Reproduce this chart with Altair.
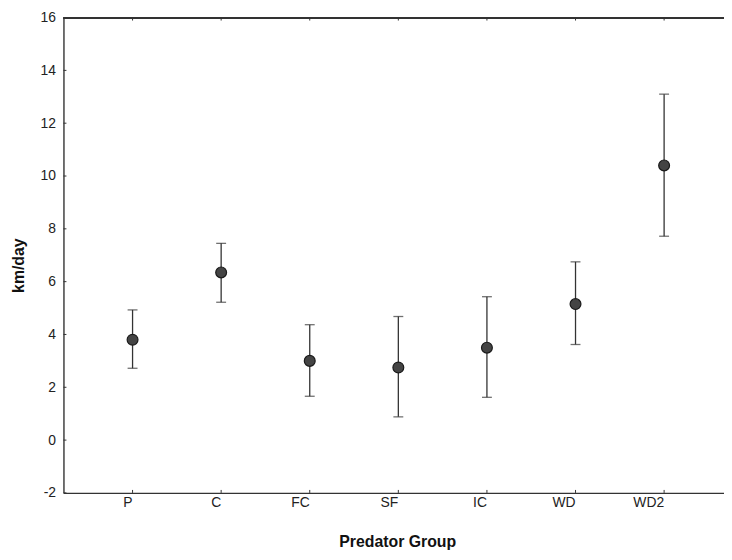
import altair as alt
import pandas as pd

groups = ["P", "C", "FC", "SF", "IC", "WD", "WD2"]
means = [3.8, 6.35, 3.0, 2.75, 3.5, 5.15, 10.4]
uppers = [4.93, 7.45, 4.37, 4.68, 5.43, 6.75, 13.1]
lowers = [2.72, 5.22, 1.66, 0.88, 1.62, 3.62, 7.72]
y_ticks = [-2, 0, 2, 4, 6, 8, 10, 12, 14, 16]

df = pd.DataFrame({"group": groups, "mean": means, "upper": uppers, "lower": lowers})
tick_df = pd.DataFrame({"v": y_ticks})

W, H = 667, 480
font = "Liberation Sans"
ink = "#333"

xscale = alt.Scale(domain=groups, padding=0.456, align=0.557)
yscale = alt.Scale(domain=[-2, 16], nice=False, zero=False)

xenc = alt.X("group:N", scale=xscale, sort=groups,
             axis=alt.Axis(title="Predator Group", labelAngle=0, ticks=False, tickSize=0,
                           labelPadding=10, labelFontSize=14, labelFont=font, labelColor="#222",
                           titleFont=font, titleFontSize=16, titleFontWeight="bold", titleColor="#111",
                           titleBaseline="alphabetic", titleY=54, titleX=337,
                           domain=True, domainColor=ink, domainWidth=1.4, grid=False))
yenc = alt.Y("mean:Q", scale=yscale,
             axis=alt.Axis(title="km/day", values=y_ticks, ticks=False, tickSize=0, labelPadding=8,
                           labelExpr="toString(datum.value)",
                           labelFontSize=14, labelFont=font, labelColor="#222",
                           titleFont=font, titleFontSize=16, titleFontWeight="bold", titleColor="#111",
                           titleBaseline="middle", titleX=-45, titleY=250, titleAngle=-90,
                           domain=True, domainColor=ink, domainWidth=1.4, grid=False))

bars = alt.Chart(df).mark_rule(color=ink, strokeWidth=1.3).encode(
    x=alt.X("group:N", scale=xscale, sort=groups),
    y=alt.Y("lower:Q", scale=yscale),
    y2="upper:Q",
)
cap_hi = alt.Chart(df).mark_tick(color=ink, thickness=1.3, size=10).encode(
    x=alt.X("group:N", scale=xscale, sort=groups),
    y=alt.Y("upper:Q", scale=yscale),
)
cap_lo = alt.Chart(df).mark_tick(color=ink, thickness=1.3, size=10).encode(
    x=alt.X("group:N", scale=xscale, sort=groups),
    y=alt.Y("lower:Q", scale=yscale),
)
pts = alt.Chart(df).mark_point(filled=True, size=120, color="#444", stroke="#1a1a1a",
                               strokeWidth=1.2, opacity=1).encode(x=xenc, y=yenc)

yticks_in = alt.Chart(tick_df).mark_rule(color=ink, strokeWidth=1).encode(
    y=alt.Y("v:Q", scale=yscale), x=alt.value(0), x2=alt.value(3))
xticks_bot = alt.Chart(df).mark_rule(color=ink, strokeWidth=1).encode(
    x=alt.X("group:N", scale=xscale, sort=groups), y=alt.value(H), y2=alt.value(H - 3))
xticks_top = alt.Chart(df).mark_rule(color=ink, strokeWidth=1).encode(
    x=alt.X("group:N", scale=xscale, sort=groups), y=alt.value(0), y2=alt.value(3))
top_line = alt.Chart(df).mark_rule(color=ink, strokeWidth=1.2).encode(
    x=alt.value(0), x2=alt.value(W), y=alt.value(0.5))

chart = alt.layer(bars, cap_hi, cap_lo, yticks_in, xticks_bot, xticks_top, top_line, pts).properties(
    width=W, height=H,
    autosize=alt.AutoSizeParams(type="none"),
    padding={"left": 56, "top": 7, "right": 0, "bottom": 57},
    background="white",
).configure_view(strokeWidth=0)

chart.save("out.html", embed_options={"renderer": "svg", "actions": False})
